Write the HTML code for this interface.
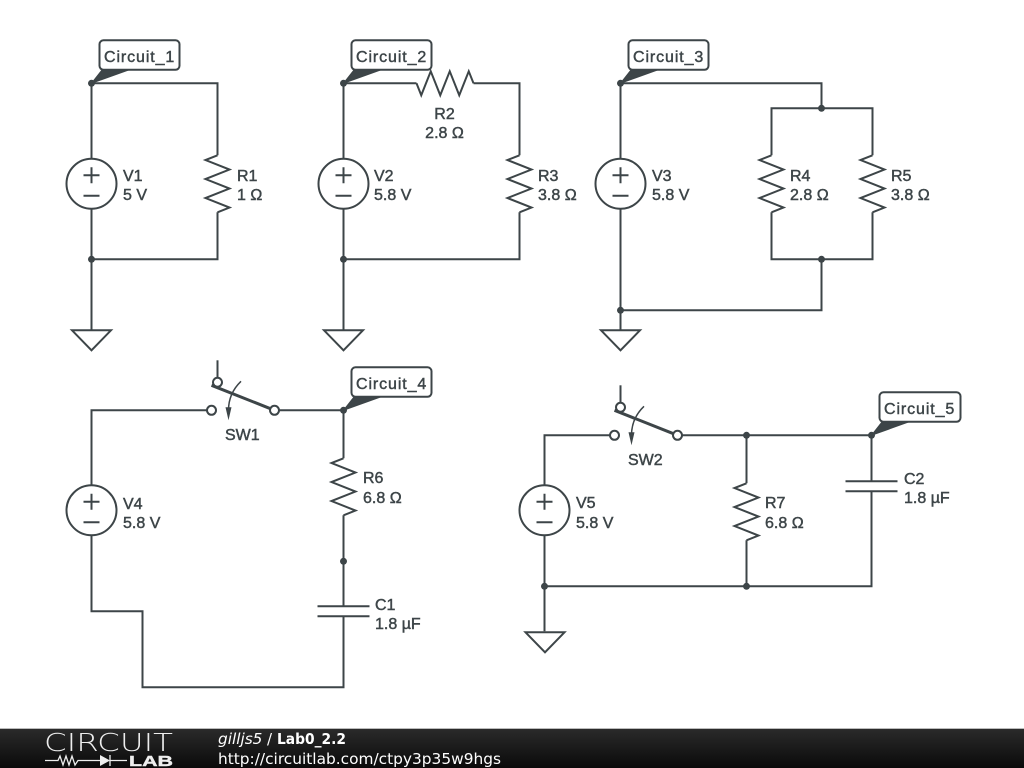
<!DOCTYPE html>
<html><head><meta charset="utf-8"><style>
html,body{margin:0;padding:0;background:#fff;width:1024px;height:768px;overflow:hidden}
svg{display:block}
.w{fill:none;stroke:#3d4548;stroke-width:2}
.t{font:16px "Liberation Sans",sans-serif;fill:#3d4548;stroke:#3d4548;stroke-width:.45}
.c{letter-spacing:.9px}
.tag{fill:#fff;stroke:#3d4548;stroke-width:2}
.n{fill:#3d4548}
.wd{fill:#3d4548;stroke:#3d4548;stroke-width:1;stroke-linejoin:round}
.o{fill:#fff;stroke:#3d4548;stroke-width:2}
</style></head><body>
<svg width="1024" height="768" viewBox="0 0 1024 768" xmlns="http://www.w3.org/2000/svg">
<defs>
<linearGradient id="bar" x1="0" y1="0" x2="0" y2="1"><stop offset="0" stop-color="#2a2a2a"/><stop offset="1" stop-color="#0a0a0a"/></linearGradient>
<g id="res"><path class="w" d="M0 0L-12 4.75L12 14.25L-12 23.75L12 33.25L-12 42.75L12 52.25L0 57"/></g>
<g id="vs"><circle class="o" cx="0" cy="0" r="25"/><path class="w" d="M-8 -8.5H8M0 -16.5V-0.5M-8 12H8"/></g>
<g id="gnd"><path class="o" style="fill:none" d="M-19.500 0H19.500L0 20Z"/></g>
<g id="sw"><circle class="o" cx="6" cy="-28" r="4.500"/><path class="w" d="M6 -50V-32.500"/><path d="M0 -25L63 0" fill="none" stroke="#3d4548" stroke-width="3"/><circle class="o" cx="0" cy="0" r="4.500"/><circle class="o" cx="63" cy="0" r="4.500"/><path class="w" style="stroke-width:1.500" d="M29.500 -29Q17 -17 17 0"/><path class="n" d="M14 -3H20L17 10Z"/></g>
</defs>

<g transform="translate(.5 .3)">
<!-- Circuit 1 -->
<path class="w" d="M91 330V158M91 208V83H217V155M217 212V259H91"/>
<use href="#res" x="217" y="155"/><use href="#vs" x="91" y="183.500"/><use href="#gnd" x="91" y="330"/>
<circle class="n" cx="91" cy="259" r="3.500"/>
<path class="wd" d="M91 83L102 69H130Z"/><circle class="n" cx="91" cy="83" r="3.500"/>
<rect class="tag" x="99" y="40" width="80" height="29.500" rx="4"/>

<!-- Circuit 2 -->
<path class="w" d="M343 330V83H416M473 83H519V155M519 212V259H343"/>
<use href="#res" transform="translate(416 83) rotate(-90)"/><use href="#res" x="519" y="155"/><use href="#vs" x="343" y="183.500"/><use href="#gnd" x="343" y="330"/>
<circle class="n" cx="343" cy="259" r="3.500"/>
<path class="wd" d="M343 83L354 69H382Z"/><circle class="n" cx="343" cy="83" r="3.500"/>
<rect class="tag" x="351" y="40" width="80" height="29.500" rx="4"/>

<!-- Circuit 3 -->
<path class="w" d="M620 330V83H821V108M771 155V108H872V155M771 212V259H872V212M821 259V310H620"/>
<use href="#res" x="771" y="155"/><use href="#res" x="872" y="155"/><use href="#vs" x="620" y="183.500"/><use href="#gnd" x="620" y="330"/>
<circle class="n" cx="821" cy="108" r="3.500"/><circle class="n" cx="821" cy="259" r="3.500"/><circle class="n" cx="620" cy="310" r="3.500"/>
<path class="wd" d="M620 83L631 69H659Z"/><circle class="n" cx="620" cy="83" r="3.500"/>
<rect class="tag" x="628" y="40" width="80" height="29.500" rx="4"/>

<!-- Circuit 4 -->
<path class="w" d="M206 410H91V611H142V687H343V616M317 616H369M317 606H369M343 606V515M343 458V410H279"/>
<use href="#res" x="343" y="458"/><use href="#vs" x="91" y="510"/><use href="#sw" x="211" y="410"/>
<circle class="n" cx="343" cy="561" r="3.500"/>
<path class="wd" d="M343 410L354 396H382Z"/><circle class="n" cx="343" cy="410" r="3.500"/>
<rect class="tag" x="351" y="367" width="80" height="29.500" rx="4"/>

<!-- Circuit 5 -->
<path class="w" d="M609 435H544V631M544 586H871V491M845 491H897M845 481H897M871 481V435H682M746 435V483M746 540V586"/>
<use href="#res" x="746" y="483"/><use href="#vs" x="544" y="510"/><use href="#sw" x="614" y="435"/><use href="#gnd" x="544.500" y="632"/>
<circle class="n" cx="746" cy="435" r="3.500"/><circle class="n" cx="746" cy="586" r="3.500"/><circle class="n" cx="544" cy="586" r="3.500"/>
<path class="wd" d="M871 435L882 421H910Z"/><circle class="n" cx="871" cy="435" r="3.500"/>
<rect class="tag" x="879" y="392" width="81" height="29.500" rx="4"/>
</g>

<!-- Labels -->
<text class="t c" x="104" y="62">Circuit_1</text>
<text class="t" x="123" y="181">V1</text><text class="t" x="123" y="200">5 V</text>
<text class="t" x="237" y="181">R1</text><text class="t" x="237" y="200">1 Ω</text>

<text class="t c" x="356" y="62">Circuit_2</text>
<text class="t" x="374" y="181">V2</text><text class="t" x="374" y="200">5.8 V</text>
<text class="t" x="444.500" y="119" text-anchor="middle">R2</text><text class="t" x="444.500" y="138" text-anchor="middle">2.8 Ω</text>
<text class="t" x="538" y="181">R3</text><text class="t" x="538" y="200">3.8 Ω</text>

<text class="t c" x="633" y="62">Circuit_3</text>
<text class="t" x="652" y="181">V3</text><text class="t" x="652" y="200">5.8 V</text>
<text class="t" x="790" y="181">R4</text><text class="t" x="790" y="200">2.8 Ω</text>
<text class="t" x="891" y="181">R5</text><text class="t" x="891" y="200">3.8 Ω</text>

<text class="t" x="225" y="440">SW1</text>
<text class="t" x="123" y="509">V4</text><text class="t" x="123" y="528">5.8 V</text>
<text class="t" x="363" y="483">R6</text><text class="t" x="363" y="503">6.8 Ω</text>
<text class="t" x="375" y="610">C1</text><text class="t" x="375" y="629">1.8 µF</text>
<text class="t c" x="356" y="389">Circuit_4</text>

<text class="t" x="628" y="465">SW2</text>
<text class="t" x="576" y="508">V5</text><text class="t" x="576" y="528">5.8 V</text>
<text class="t" x="765" y="508">R7</text><text class="t" x="765" y="528">6.8 Ω</text>
<text class="t" x="904" y="484">C2</text><text class="t" x="904" y="503">1.8 µF</text>
<text class="t c" x="884" y="414">Circuit_5</text>

<!-- Footer -->
<rect x="0" y="729" width="1024" height="39" fill="url(#bar)"/>
<rect x="0" y="728" width="1024" height="1" fill="#bbb"/>
<text x="44" y="751" font-family="DejaVu Sans,sans-serif" font-weight="200" font-size="25" fill="#eee" textLength="129" lengthAdjust="spacingAndGlyphs">CIRCUIT</text>
<path d="M45 760.500H58L60 756L63 765L66 756L69 765L72 756L75 765L78 760.500H100M110 755V766M110 760.500H127" fill="none" stroke="#eee" stroke-width="1.300"/>
<path d="M100 755L110 760.500L100 766Z" fill="#eee"/>
<text x="129" y="766" font-family="Liberation Sans,sans-serif" font-size="15" font-weight="bold" fill="#eee" stroke="#eee" stroke-width=".4" textLength="44" lengthAdjust="spacingAndGlyphs">LAB</text>
<text x="218" y="744" font-family="DejaVu Sans,sans-serif" font-size="15.300" font-style="italic" fill="#fff">gilljs5</text>
<text x="267" y="744" font-family="DejaVu Sans,sans-serif" font-size="15" fill="#fff">/</text>
<text x="277" y="744" font-family="DejaVu Sans,sans-serif" font-size="15" font-weight="bold" fill="#fff" textLength="69" lengthAdjust="spacingAndGlyphs">Lab0_2.2</text>
<text x="218" y="764" font-family="DejaVu Sans,sans-serif" font-size="15.400" fill="#fff" textLength="283" lengthAdjust="spacingAndGlyphs">http://circuitlab.com/ctpy3p35w9hgs</text>
</svg>
</body></html>
